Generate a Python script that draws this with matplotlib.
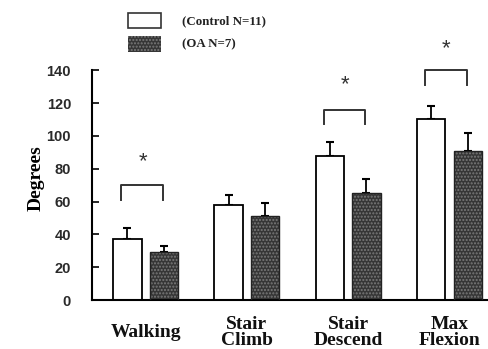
import matplotlib.pyplot as plt
import numpy as np
from matplotlib.patches import Rectangle

tasks = ['Walking', 'Stair\nClimb', 'Stair\nDescend', 'Max\nFlexion']
control = [37, 58, 88, 110]
control_err = [7, 6, 8, 8]
oa = [29, 51, 65, 91]
oa_err = [4, 8, 9, 11]
names = ('(Control N=11)', '(OA N=7)')
yticks = [0, 20, 40, 60, 80, 100, 120, 140]
# significance brackets: (task index, bracket top, star height)
signif = [(0, 70, 84), (2, 116, 131), (3, 140, 153)]

serif = ['Liberation Serif', 'DejaVu Serif']
sans = ['Liberation Sans', 'DejaVu Sans']
dark = '#363636'
speckle = '#7a7a7a'

fig = plt.figure(figsize=(4.89, 3.49), dpi=100)
ax = fig.add_axes([0.188, 0.140, 0.812, 0.659])

idx = np.arange(len(tasks))
w = 0.28
off = 0.18
ax.bar(idx - off, control, w, color='white', edgecolor='black', linewidth=1.3, zorder=2)
ax.bar(idx + off, oa, w, color=dark, edgecolor=speckle, hatch='.....',
       linewidth=0, zorder=2)
ax.bar(idx + off, oa, w, fill=False, edgecolor='#222222', linewidth=1.0, zorder=3)

ax.errorbar(idx - off, control, yerr=[np.zeros(4), control_err], fmt='none',
            ecolor='black', elinewidth=1.3, capsize=3, capthick=1.5, zorder=1)
ax.errorbar(idx + off, oa, yerr=[np.zeros(4), oa_err], fmt='none',
            ecolor='black', elinewidth=1.3, capsize=3, capthick=1.5, zorder=1)

for i, top, star in signif:
    x0, x1 = i - 0.24, i + 0.17
    ax.plot([x0, x0, x1, x1], [top - 9, top, top, top - 9], color='#333333',
            lw=1.4, clip_on=False)
    ax.text(i - 0.03, star, '*', ha='center', va='center', fontsize=16,
            family=sans, color='#333333', clip_on=False)

ax.set_xlim(-0.53, 3.39)
ax.set_ylim(0, 140)
ax.set_yticks(yticks)
ax.set_yticklabels([str(t) for t in yticks], family=sans, fontweight='bold',
                   fontsize=10.5, color='#2a2a2a')
ax.set_xticks(idx)
ax.set_xticklabels(tasks, family=serif, fontweight='bold', fontsize=14,
                   linespacing=0.9, color='#111111', va='center')
ax.tick_params(axis='y', direction='in', length=5, width=1.2, pad=15)
ax.tick_params(axis='x', length=0, pad=23.5)
for s in ['top', 'right']:
    ax.spines[s].set_visible(False)
ax.spines['left'].set_linewidth(1.5)
ax.spines['bottom'].set_linewidth(1.5)
ax.set_ylabel('Degrees', family=serif, fontweight='bold', fontsize=14)
ax.yaxis.set_label_coords(-0.118, 0.53)

# legend drawn in figure pixels
fig.patches.append(Rectangle((128 / 489, 1 - 28 / 349), 33 / 489, 15 / 349,
                             transform=fig.transFigure, facecolor='white',
                             edgecolor='#333333', lw=1.2))
fig.patches.append(Rectangle((128 / 489, 1 - 52 / 349), 33 / 489, 16 / 349,
                             transform=fig.transFigure, facecolor=dark,
                             edgecolor=speckle, hatch='.....', lw=0))
fig.text(182 / 489, 1 - 21 / 349, names[0], family=serif, fontweight='bold',
         fontsize=9.3, va='center', color='#222222')
fig.text(182 / 489, 1 - 44 / 349, names[1], family=serif, fontweight='bold',
         fontsize=9.3, va='center', color='#222222')

fig.savefig('out.png', dpi=100)
